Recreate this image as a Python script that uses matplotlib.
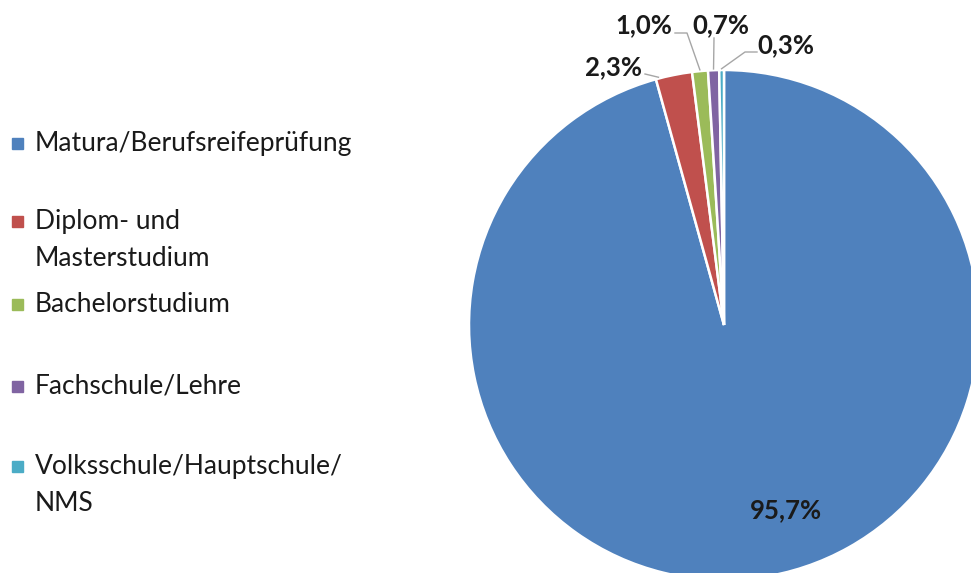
import matplotlib
matplotlib.use("Agg")
import matplotlib.pyplot as plt
from matplotlib.patches import Rectangle
import numpy as np

categories = ["Matura/Berufsreifeprüfung", "Diplom- und\nMasterstudium", "Bachelorstudium",
              "Fachschule/Lehre", "Volksschule/Hauptschule/\nNMS"]
values = [95.7, 2.3, 1.0, 0.7, 0.3]
labels = ["95,7%", "2,3%", "1,0%", "0,7%", "0,3%"]
colors = ["#4F81BD", "#C0504D", "#9BBB59", "#8064A2", "#4BACC6"]

W, H = 971, 573
CX, CY, R = 724, 325, 255  # pixel center / radius

def px(x, y):
    return (x - CX) / R, (CY - y) / R

plt.rcParams['font.family'] = ['Lato', 'DejaVu Sans']
fig = plt.figure(figsize=(W / 100, H / 100), dpi=100)
ax = fig.add_axes([0, 0, 1, 1])
wedges, _ = ax.pie(values, colors=colors, startangle=90, counterclock=False,
                   radius=1.0, wedgeprops=dict(edgecolor="white", linewidth=1.8))
ax.set_xlim(-CX / R, (W - CX) / R)
ax.set_ylim((CY - H) / R, CY / R)
ax.set_aspect('auto')
ax.axis('off')

# label positions (pixel) and leader geometry (layout)
label_pos = [(786, 510), (614, 67), (644, 25), (721, 25), (786, 45)]
leader_t = [None, 0.08, 0.5, 0.5, 0.5]
knees = [None, [(645, 74)], [(675, 33), (687, 33)], [(714, 38)], [(757, 52), (745, 52)]]

cum = np.cumsum([0] + values)
total = sum(values)
for i, lab in enumerate(labels):
    x, y = px(*label_pos[i])
    ax.text(x, y, lab, ha='center', va='center', fontsize=18.5, fontweight='bold', color='#1a1a1a')
    if leader_t[i] is not None:
        frac = (cum[i] + leader_t[i] * values[i]) / total
        ang = np.deg2rad(90 - 360 * frac)
        ex, ey = 1.005 * np.cos(ang), 1.005 * np.sin(ang)
        pts = [px(*k) for k in knees[i]] + [(ex, ey)]
        ax.plot([p[0] for p in pts], [p[1] for p in pts], color="#A6A6A6", lw=1.0)

# legend (manual)
leg_y = [143, 240, 304, 386, 485]
for i, cat in enumerate(categories):
    ytop = leg_y[i]
    nlines = cat.count("\n") + 1
    first_y = ytop - (nlines - 1) * 38 / 2
    fig.patches.append(Rectangle((12 / W, 1 - (first_y + 6) / H), 11 / W, 11 / H,
                                 transform=fig.transFigure, color=colors[i]))
    fig.text(35 / W, 1 - ytop / H, cat, ha='left', va='center', fontsize=19,
             color='#1a1a1a', linespacing=1.62)

fig.savefig("out.png", dpi=100)
